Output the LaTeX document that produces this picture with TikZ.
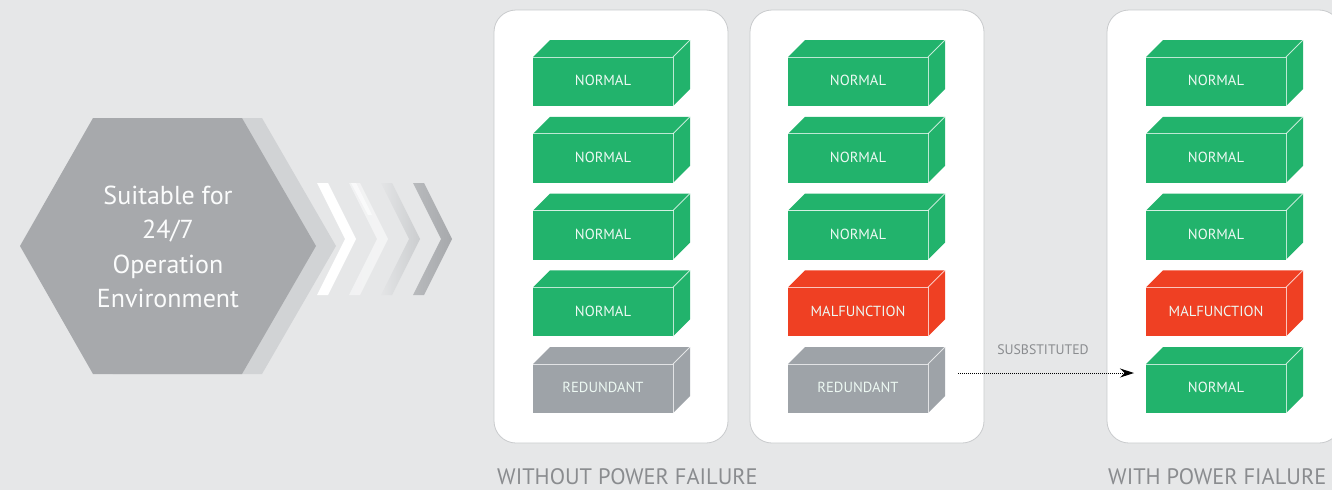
\documentclass[tikz,border=0pt]{standalone}
\usepackage{fontspec}
\setmainfont{PT Sans}
\usetikzlibrary{arrows.meta,calc}
\definecolor{bg}{HTML}{E6E7E8}
\definecolor{grn}{HTML}{22B36C}
\definecolor{malred}{HTML}{EF4023}
\definecolor{redgray}{HTML}{9EA3A8}
\definecolor{hexdark}{HTML}{A7A9AC}
\definecolor{hexlight}{HTML}{D1D3D5}
\definecolor{labelgray}{HTML}{8A8C8F}
\definecolor{panelborder}{HTML}{C9CBCD}
\newcommand\mycube[5]{%
  \node[cubefront, fill=#4] (#1) at (#2+70,#3+24.5) {\raisebox{1.5pt}{#5}};
  \fill[#4] (#1.north west) -- ++(17,-17) -- ++(140,0) -- (#1.north east) -- cycle;
  \fill[#4] (#1.north east) -- ++(17,-17) -- ++(0,49) -- (#1.south east) -- cycle;
  \draw[cubeedge] (#1.north west) -- (#1.north east) -- (#1.south east);
  \draw[cubeedge] (#1.north east) -- ++(17,-17);
}
\begin{document}
\begin{tikzpicture}[x=1pt,y=-1pt,
  cubefront/.style={rectangle, minimum width=140pt, minimum height=49pt, inner sep=0pt, outer sep=0pt,
    text=white!92!grn, font=\fontsize{14.6}{15}\selectfont},
  cubeedge/.style={draw=white, draw opacity=0.7, line width=0.9pt},
  panel/.style={fill=white, draw=panelborder, line width=0.8pt, rounded corners=22pt},
  bottomlabel/.style={text=labelgray, font=\fontsize{22.4}{24}\selectfont, inner sep=0pt}]
\useasboundingbox (0,0) rectangle (1332,490);
\fill[bg] (0,0) rectangle (1332,490);
% hexagons
\fill[hexlight] (40,246) -- (113,118) -- (262,118) -- (336,246) -- (262,374) -- (113,374) -- cycle;
\fill[hexdark] (20,246) -- (93,118) -- (242,118) -- (316,246) -- (242,374) -- (93,374) -- cycle;
\node[align=center, text=white!96!hexdark, font=\fontsize{26}{34.5}\selectfont] (hex) at (168,247)
  {Suitable for\\24/7\\Operation\\Environment};
% chevrons
\fill[white] (317,183) -- (328,183) -- (356,239) -- (328,295) -- (317,295) -- (345,239) -- cycle;
\shade[left color=white!70!hexlight, right color=white!75!hexlight] (349,183) -- (360,183) -- (388,239) -- (360,295) -- (349,295) -- (377,239) -- cycle;
\fill[white, opacity=0.6] (351,183) -- (356,183) -- (372,215) -- (368,215) -- cycle;
\shade[left color=white!40!hexlight, right color=hexlight!85!hexdark] (381,183) -- (392,183) -- (420,239) -- (392,295) -- (381,295) -- (409,239) -- cycle;
\shade[left color=hexlight!40!hexdark, right color=hexdark] (413,183) -- (424,183) -- (452,239) -- (424,295) -- (413,295) -- (441,239) -- cycle;
% panels
\draw[panel] (494,10) rectangle (728,443);
\draw[panel] (750,10) rectangle (984,443);
\draw[panel] (1107,10) rectangle (1341,443);
% panel 1
\mycube{a1}{533}{57}{grn}{NORMAL}
\mycube{a2}{533}{133.75}{grn}{NORMAL}
\mycube{a3}{533}{210.5}{grn}{NORMAL}
\mycube{a4}{533}{287.25}{grn}{NORMAL}
\mycube{a5}{533}{364}{redgray}{REDUNDANT}
% panel 2
\mycube{b1}{788}{57}{grn}{NORMAL}
\mycube{b2}{788}{133.75}{grn}{NORMAL}
\mycube{b3}{788}{210.5}{grn}{NORMAL}
\mycube{b4}{788}{287.25}{malred}{MALFUNCTION}
\mycube{b5}{788}{364}{redgray}{REDUNDANT}
% panel 3
\mycube{c1}{1146}{57}{grn}{NORMAL}
\mycube{c2}{1146}{133.75}{grn}{NORMAL}
\mycube{c3}{1146}{210.5}{grn}{NORMAL}
\mycube{c4}{1146}{287.25}{malred}{MALFUNCTION}
\mycube{c5}{1146}{364}{grn}{NORMAL}
% substitution arrow
\draw[densely dotted, line width=1pt, -{Stealth[length=14pt,width=9pt]}]
  ($(b5.east)+(30,-15.5)$) -- ($(c5.west)+(-12,-15.5)$);
\node[text=labelgray, font=\fontsize{13.8}{15}\selectfont] (sub) at (1043,350) {SUSBSTITUTED};
% bottom labels
\node[bottomlabel, anchor=base west] (lab1) at (497,484) {WITHOUT POWER FAILURE};
\node[bottomlabel, anchor=base west] (lab2) at (1108,484) {WITH POWER FIALURE};
\end{tikzpicture}
\end{document}
